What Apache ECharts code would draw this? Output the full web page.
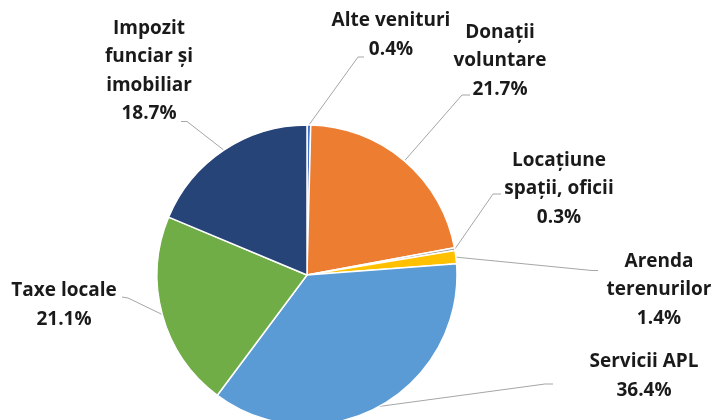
<!DOCTYPE html>
<html>
<head>
<meta charset="utf-8">
<script src="https://cdn.jsdelivr.net/npm/echarts@6/dist/echarts.min.js"></script>
<style>
html,body{margin:0;padding:0;background:#fff;}
#chart{width:713px;height:420px;}
</style>
</head>
<body>
<div id="chart"></div>
<script>
// Data (clockwise from 12 o'clock)
var categories = [
  'Alte venituri',
  'Donații\nvoluntare',
  'Locațiune\nspații, oficii',
  'Arenda\nterenurilor',
  'Servicii APL',
  'Taxe locale',
  'Impozit\nfunciar și\nimobiliar'
];
var shares = [0.4, 21.7, 0.3, 1.4, 36.4, 21.1, 18.7];
var colors = ['#4472C4', '#ED7D31', '#A5A5A5', '#FFC000', '#5B9BD5', '#70AD47', '#264478'];

// Label placement (layout only): label centre, leader elbow, leader end
var labelPos = [
  {x: 391, y: 35,  elbow: [358, 57],  end: [364, 57]},
  {x: 500, y: 61,  elbow: [462, 95],  end: [470, 95]},
  {x: 559, y: 189, elbow: [493, 194], end: [501, 194]},
  {x: 659, y: 290, elbow: [592, 270.5], end: [598, 270.5]},
  {x: 644, y: 376, elbow: [545, 384], end: [553, 384]},
  {x: 64,  y: 305, elbow: [128, 298], end: [122, 297]},
  {x: 149, y: 71,  elbow: [187, 121.5], end: [181, 121.5]}
];

var data = categories.map(function (c, i) {
  return { name: c, value: shares[i], itemStyle: { color: colors[i] } };
});

var chart = echarts.init(document.getElementById('chart'), null, {renderer: 'canvas'});
chart.setOption({
  backgroundColor: '#ffffff',
  animation: false,
  series: [{
    type: 'pie',
    center: [307, 275],
    radius: 150,
    startAngle: 90,
    clockwise: true,
    avoidLabelOverlap: false,
    data: data,
    itemStyle: { borderColor: '#ffffff', borderWidth: 1.5 },
    label: {
      show: true,
      position: 'outside',
      formatter: function (p) { return p.name + '\n' + p.value.toFixed(1) + '%'; },
      fontFamily: '"Open Sans", sans-serif',
      fontWeight: 'bold',
      fontSize: 19,
      lineHeight: 28.5,
      color: '#1a1a1a',
      align: 'center'
    },
    labelLine: {
      show: true,
      smooth: false,
      lineStyle: { color: '#A6A6A6', width: 1 }
    },
    labelLayout: function (params) {
      var lp = labelPos[params.dataIndex];
      var pts = params.labelLinePoints;
      var start = pts ? pts[0] : lp.elbow;
      return {
        x: lp.x,
        y: lp.y,
        align: 'center',
        verticalAlign: 'middle',
        labelLinePoints: [start, lp.elbow, lp.end]
      };
    }
  }]
});
</script>
</body>
</html>
